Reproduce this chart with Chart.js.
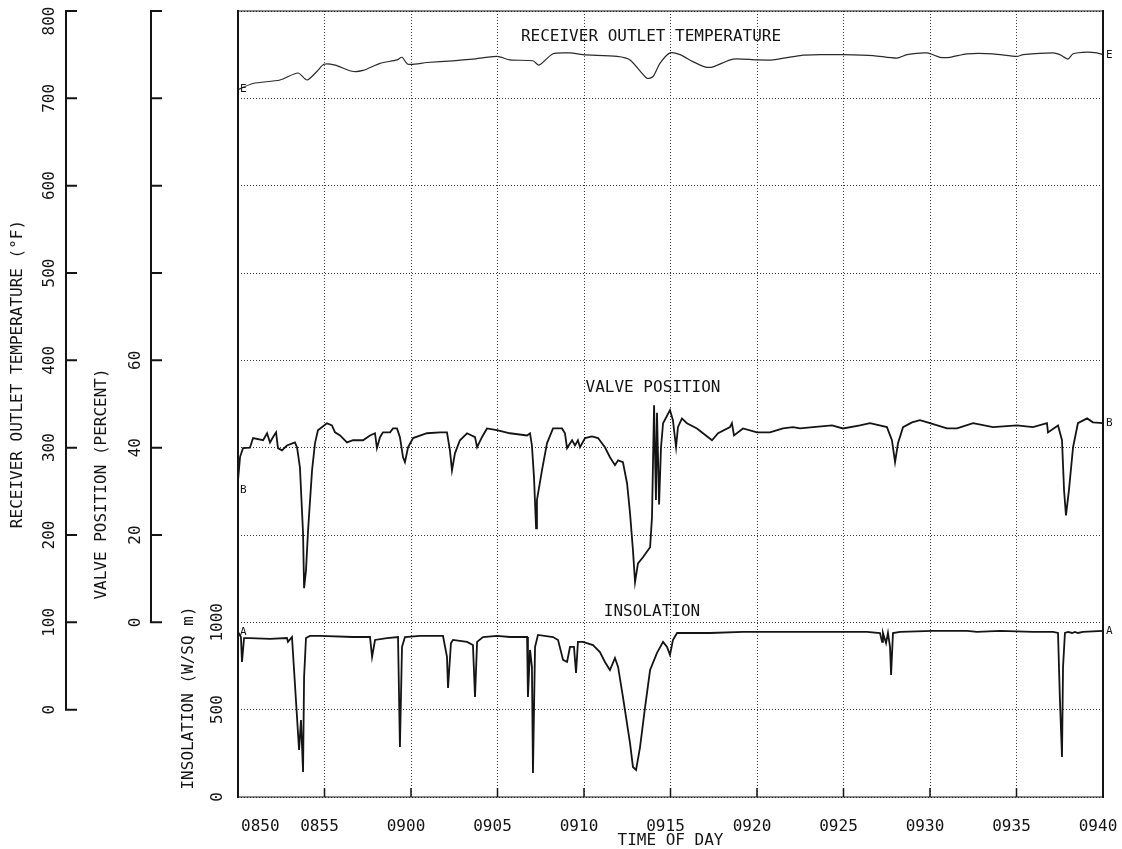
<!DOCTYPE html>
<html>
<head>
<meta charset="utf-8">
<title>Receiver outlet temperature, valve position and insolation</title>
<script src="https://cdn.jsdelivr.net/npm/chart.js@4.4.1/dist/chart.umd.min.js"></script>
<style>
  html, body { margin: 0; padding: 0; background: #fff; }
  #plot { display: block; }
</style>
</head>
<body>
<canvas id="plot" width="1122" height="849"></canvas>
<script>
// Time is given in minutes after 08:50.
const timeTicks  = [0, 5, 10, 15, 20, 25, 30, 35, 40, 45, 50];
const timeLabels = ['0850', '0855', '0900', '0905', '0910', '0915', '0920', '0925', '0930', '0935', '0940'];

const tempTicks   = [0, 100, 200, 300, 400, 500, 600, 700, 800];
const valveTicks  = [0, 20, 40, 60];
const valveMarks  = [0, 20, 40, 60, 80, 100, 120, 140];
const insolTicks  = [0, 500, 1000];

// Receiver outlet temperature (deg F)
const tempMin = [0, 0.87, 2.43, 3.47, 3.99, 4.57, 4.97, 5.61, 6.59, 7.23, 8.21, 9.19, 9.48, 9.83, 10.92,
  12.43, 13.58, 14.97, 15.72, 17.05, 17.40, 18.21, 19.19, 19.94, 21.91, 22.66, 23.64, 23.99, 24.39, 24.97,
  25.55, 26.30, 26.99, 27.46, 28.61, 30.0, 30.92, 32.49, 33.64, 34.97, 36.71, 38.09, 38.67, 39.83, 40.58,
  41.16, 42.14, 43.64, 45.03, 45.38, 47.11, 47.51, 47.98, 48.27, 49.08, 49.65, 50];
const tempF = [710, 717, 721, 729, 721, 731, 739, 738, 731, 732, 740, 744, 747, 739, 741,
  743, 745, 748, 744, 743, 738, 751, 752, 750, 748, 744, 723, 725, 740, 752,
  750, 742, 736, 736, 745, 744, 744, 749, 750, 750, 749, 746, 750, 752, 747,
  747, 751, 751, 748, 750, 752, 750, 745, 751, 753, 752, 750];

// Valve position (percent)
const valveMin = [0, 0.12, 0.29, 0.69, 0.87, 1.45, 1.68, 1.85, 2.02, 2.20,
  2.31, 2.54, 2.83, 3.29, 3.41, 3.58, 3.76, 3.82, 3.93, 4.05,
  4.28, 4.45, 4.62, 5.14, 5.43, 5.61, 5.90, 6.30, 6.65, 7.23,
  7.63, 7.92, 8.03, 8.21, 8.38, 8.79, 8.96, 9.19, 9.36, 9.54,
  9.65, 9.83, 10.12, 10.92, 11.68, 12.08, 12.25, 12.37, 12.54, 12.83,
  13.24, 13.70, 13.82, 14.10, 14.39, 14.97, 15.72, 16.71, 16.88, 16.99,
  17.11, 17.23, 17.28, 17.57, 17.86, 18.21, 18.73, 18.90, 19.02, 19.31,
  19.48, 19.65, 19.77, 20.06, 20.46, 20.81, 21.21, 21.50, 21.79, 21.97,
  22.25, 22.49, 22.66, 22.83, 22.95, 23.12, 23.41, 23.82, 23.93, 24.05,
  24.16, 24.22, 24.34, 24.45, 24.57, 24.97, 25.14, 25.32, 25.43, 25.66,
  25.95, 26.53, 26.88, 27.40, 27.75, 28.44, 28.55, 28.67, 29.19, 30.00,
  30.75, 31.50, 32.08, 32.49, 33.24, 34.34, 34.97, 35.95, 36.53, 37.51,
  37.80, 37.98, 38.15, 38.44, 38.96, 39.42, 40.00, 40.98, 41.56, 42.49,
  43.64, 45.03, 45.95, 46.76, 46.82, 47.40, 47.63, 47.75, 47.86, 48.03,
  48.27, 48.55, 49.08, 49.42, 50];
const valvePct = [32.5, 37.9, 39.9, 40, 42.2, 41.7, 43.3, 41.2, 42.4, 43.5,
  39.9, 39.4, 40.5, 41.2, 40.1, 35.5, 20.4, 7.8, 11.9, 21.1,
  34.8, 41, 44, 45.6, 45.1, 43.5, 42.8, 41.2, 41.7, 41.7,
  42.8, 43.3, 39.9, 42.4, 43.5, 43.5, 44.4, 44.4, 42.4, 37.8,
  36.7, 40.1, 42.2, 43.3, 43.5, 43.5, 39.4, 34.8, 38.7, 41.7,
  43.3, 42.4, 40.1, 42.4, 44.4, 44, 43.3, 42.8, 43.3, 40.5,
  33.2, 21.5, 28, 34.8, 41, 44.4, 44.4, 43.3, 39.9, 41.7,
  40.5, 41.7, 40.1, 42.2, 42.6, 42.2, 40.1, 37.8, 36, 37.1,
  36.7, 31.8, 25, 16.5, 9.2, 13.5, 14.9, 17.2, 24.1, 49.7,
  28, 48, 27, 40, 45.6, 48.6, 46.3, 40.1, 44.7, 46.7,
  45.6, 44.4, 43.3, 41.7, 43.3, 44.7, 45.6, 42.8, 44.4, 43.5,
  43.5, 44.4, 44.7, 44.4, 44.7, 45.1, 44.4, 45.1, 45.6, 44.7,
  41.7, 36.7, 41, 44.7, 45.8, 46.3, 45.6, 44.4, 44.4, 45.6,
  44.7, 45.1, 44.7, 45.6, 43.5, 45.1, 41.7, 30.2, 24.5, 30.2,
  40.1, 45.6, 46.7, 45.8, 45.6];

// Insolation (W/sq m)
const insolMin = [0, 0.17, 0.23, 0.35, 0.69, 1.85, 2.83, 2.89, 3.12, 3.24,
  3.41, 3.53, 3.64, 3.76, 3.82, 3.93, 4.16, 4.74, 6.65, 7.63,
  7.75, 7.92, 8.61, 9.25, 9.36, 9.48, 9.65, 10.52, 11.85, 12.08,
  12.14, 12.31, 12.43, 13.24, 13.58, 13.70, 13.82, 14.16, 14.97, 15.72,
  16.71, 16.76, 16.88, 16.99, 17.05, 17.17, 17.34, 18.21, 18.50, 18.79,
  19.02, 19.19, 19.42, 19.54, 19.65, 19.94, 20.52, 20.92, 21.21, 21.50,
  21.79, 21.97, 22.25, 22.66, 22.83, 23.01, 23.24, 23.53, 23.82, 24.22,
  24.57, 24.80, 24.97, 25.14, 25.38, 25.95, 27.28, 29.19, 31.16, 33.06,
  34.39, 36.36, 37.11, 37.23, 37.28, 37.46, 37.57, 37.69, 37.75, 37.86,
  38.27, 40.17, 42.14, 42.72, 44.05, 45.95, 47.11, 47.40, 47.51, 47.63,
  47.69, 47.80, 47.98, 48.21, 48.38, 48.55, 48.84, 50];
const insolW = [945, 916, 773, 910, 910, 905, 910, 888, 916, 727,
  458, 269, 441, 143, 687, 910, 922, 922, 916, 916,
  802, 899, 910, 916, 286, 859, 916, 922, 922, 802,
  624, 882, 899, 888, 870, 573, 888, 916, 922, 916,
  916, 573, 842, 745, 137, 859, 928, 916, 899, 785,
  773, 859, 859, 710, 888, 888, 870, 830, 773, 727,
  796, 745, 573, 309, 172, 155, 286, 515, 727, 825,
  888, 859, 813, 899, 939, 939, 939, 945, 945, 945,
  945, 945, 939, 888, 939, 882, 939, 859, 699, 939,
  945, 951, 951, 945, 951, 945, 945, 939, 556, 229,
  745, 939, 945, 939, 945, 939, 945, 951];

const INK = '#141414';
const FAMILY = '"DejaVu Sans Mono", "Liberation Mono", monospace';
const FONT = '16px ' + FAMILY;

const pts = (xs, ys) => xs.map((x, i) => ({ x: x, y: ys[i] }));

function vText(ctx, text, x, y) {
  ctx.save();
  ctx.translate(x, y);
  ctx.rotate(-Math.PI / 2);
  ctx.textAlign = 'center';
  ctx.textBaseline = 'middle';
  ctx.fillText(text, 0, 0);
  ctx.restore();
}

// Frame, stacked left axes, time labels and curve captions
const plotter = {
  id: 'plotter',
  beforeDraw(chart) {
    const c = chart.ctx;
    c.save();
    c.fillStyle = '#fff';
    c.fillRect(0, 0, chart.width, chart.height);
    c.restore();
  },
  afterDraw(chart) {
    const c = chart.ctx;
    const a = chart.chartArea;
    const sx = chart.scales.x, sT = chart.scales.yT, sV = chart.scales.yV, sI = chart.scales.yI;
    c.save();
    c.strokeStyle = INK;
    c.fillStyle = INK;
    c.lineCap = 'butt';

    // plot frame
    c.lineWidth = 1.2;
    c.beginPath();
    c.moveTo(a.left, a.top); c.lineTo(a.right, a.top);
    c.moveTo(a.left, a.bottom); c.lineTo(a.right, a.bottom);
    c.stroke();
    c.lineWidth = 2;
    c.beginPath();
    c.moveTo(a.left, a.top - 1); c.lineTo(a.left, a.bottom + 1);
    c.moveTo(a.right, a.top - 1); c.lineTo(a.right, a.bottom + 1);
    c.stroke();

    // inward time ticks on the bottom edge
    c.lineWidth = 1.5;
    c.beginPath();
    timeTicks.forEach(t => {
      const px = sx.getPixelForValue(t);
      c.moveTo(px, a.bottom); c.lineTo(px, a.bottom - 9);
    });
    c.stroke();

    // time labels
    c.font = FONT;
    c.textBaseline = 'middle';
    timeTicks.forEach((t, i) => {
      const px = sx.getPixelForValue(t);
      if (i === 0) { c.textAlign = 'left'; c.fillText(timeLabels[i], px + 3, a.bottom + 30); }
      else { c.textAlign = 'center'; c.fillText(timeLabels[i], px - 5, a.bottom + 30); }
    });

    // temperature axis
    const xT = 66;
    c.lineWidth = 2;
    c.beginPath();
    c.moveTo(xT, sT.getPixelForValue(800) - 1);
    c.lineTo(xT, sT.getPixelForValue(0) + 1);
    tempTicks.forEach(v => {
      const py = sT.getPixelForValue(v);
      c.moveTo(xT, py); c.lineTo(xT + 11, py);
    });
    c.stroke();
    tempTicks.forEach(v => {
      const py = Math.max(sT.getPixelForValue(v), a.top + 10);
      vText(c, String(v), 50, py);
    });
    vText(c, 'RECEIVER OUTLET TEMPERATURE (°F)', 18, 374);

    // valve position axis
    const xV = 151;
    c.beginPath();
    c.moveTo(xV, sV.getPixelForValue(140) - 1);
    c.lineTo(xV, sV.getPixelForValue(0) + 1);
    valveMarks.forEach(v => {
      const py = sV.getPixelForValue(v);
      c.moveTo(xV, py); c.lineTo(xV + 11, py);
    });
    c.stroke();
    valveTicks.forEach(v => vText(c, String(v), 136, sV.getPixelForValue(v)));
    vText(c, 'VALVE POSITION (PERCENT)', 102, 484);

    // insolation axis (left edge of the plot)
    insolTicks.forEach(v => vText(c, String(v), 218, sI.getPixelForValue(v)));
    vText(c, 'INSOLATION (W/SQ m)', 189, 698);

    // curve captions
    c.textAlign = 'center';
    c.textBaseline = 'middle';
    c.fillText('RECEIVER OUTLET TEMPERATURE', 651, 37);
    c.fillText('VALVE POSITION', 653, 388);
    c.fillText('INSOLATION', 652, 612);

    // pen symbols at the start and end of each trace
    c.font = '11px ' + FAMILY;
    const marks = [
      ['E', sT, tempMin, tempF, 0],
      ['B', sV, valveMin, valvePct, 10],
      ['A', sI, insolMin, insolW, 0]
    ];
    marks.forEach(([ch, s, xs, ys, dy]) => {
      const n = xs.length - 1;
      c.textAlign = 'left';
      c.fillText(ch, sx.getPixelForValue(xs[0]) + 2, s.getPixelForValue(ys[0]) + dy);
      c.fillText(ch, sx.getPixelForValue(xs[n]) + 3, s.getPixelForValue(ys[n]));
    });
    c.restore();
  }
};

const gridDash = [1, 2];

new Chart(document.getElementById('plot'), {
  type: 'line',
  data: {
    datasets: [
      { label: 'Receiver outlet temperature', yAxisID: 'yT', data: pts(tempMin, tempF),
        borderColor: '#2a2a2a', borderWidth: 1.2, pointRadius: 0, tension: 0.25, fill: false },
      { label: 'Valve position', yAxisID: 'yV', data: pts(valveMin, valvePct),
        borderColor: INK, borderWidth: 1.8, pointRadius: 0, tension: 0, fill: false },
      { label: 'Insolation', yAxisID: 'yI', data: pts(insolMin, insolW),
        borderColor: INK, borderWidth: 1.8, pointRadius: 0, tension: 0, fill: false }
    ]
  },
  options: {
    responsive: false,
    animation: false,
    devicePixelRatio: 1,
    layout: { padding: { left: 238, right: 19, top: 11, bottom: 0 } },
    plugins: { legend: { display: false }, tooltip: { enabled: false } },
    scales: {
      x: {
        type: 'linear', min: 0, max: 50,
        ticks: { stepSize: 5, display: false },
        grid: { color: '#3a3a3a', lineWidth: 1, drawTicks: false },
        border: { display: false, dash: gridDash },
        title: { display: true, text: 'TIME OF DAY', color: INK, padding: 0,
                 font: { family: FAMILY, size: 16, lineHeight: 1 } },
        afterFit: s => { s.height = 52; }
      },
      yT: {
        position: 'left', min: -100, max: 800,
        ticks: { stepSize: 100, display: false },
        grid: { color: '#3a3a3a', lineWidth: 1, drawTicks: false },
        border: { display: false, dash: gridDash },
        afterFit: s => { s.width = 0; }
      },
      yV: { position: 'left', min: -40, max: 140, display: false },
      yI: { position: 'left', min: 0, max: 4500, display: false }
    }
  },
  plugins: [plotter]
});
</script>
</body>
</html>
